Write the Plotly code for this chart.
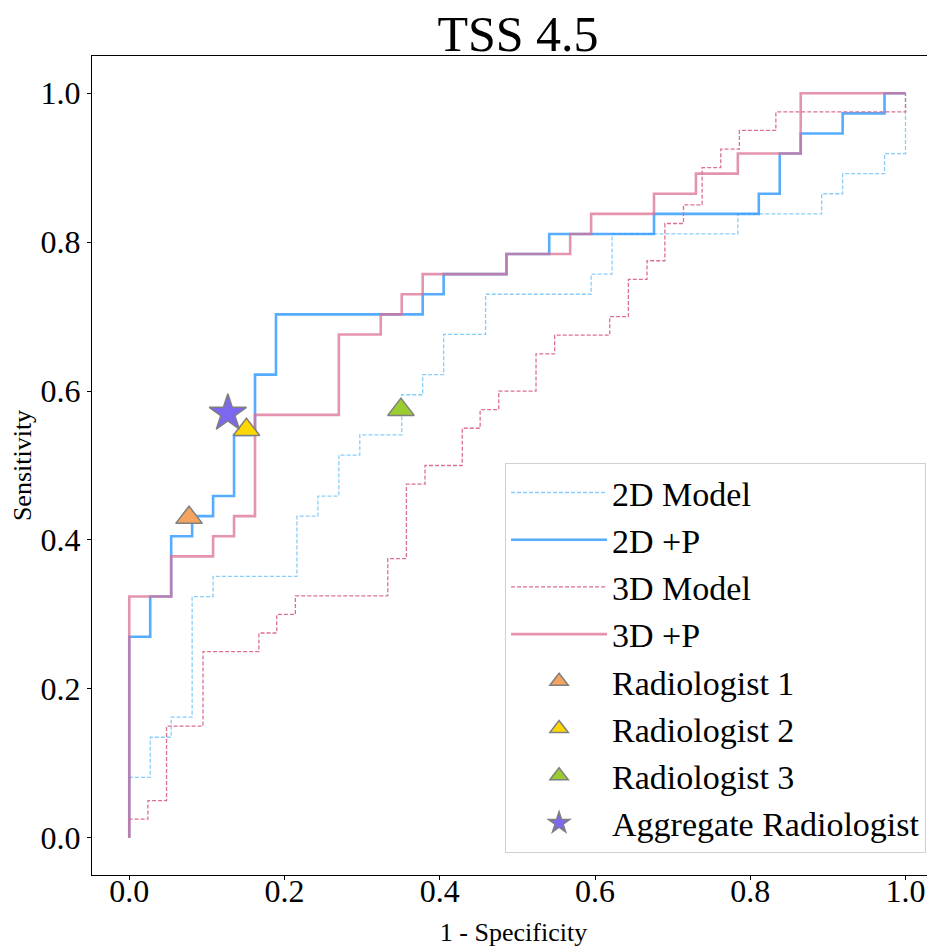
import plotly.graph_objects as go

# ROC corner points (used with a vertical-then-horizontal step shape)
fpr_2d_model = [0, 0.027, 0.054, 0.081, 0.108, 0.216, 0.243, 0.270, 0.297, 0.351, 0.378,
                0.405, 0.459, 0.595, 0.622, 0.784, 0.892, 0.919, 0.973, 1.0, 1.0]
tpr_2d_model = [0, 0.081, 0.135, 0.162, 0.324, 0.351, 0.432, 0.459, 0.514, 0.541, 0.595,
                0.622, 0.676, 0.730, 0.757, 0.811, 0.838, 0.865, 0.892, 0.919, 1.0]

fpr_2d_p = [0, 0.027, 0.054, 0.081, 0.108, 0.135, 0.162, 0.189, 0.378, 0.405, 0.486,
            0.541, 0.676, 0.811, 0.838, 0.865, 0.919, 0.973, 1.0]
tpr_2d_p = [0, 0.270, 0.324, 0.405, 0.432, 0.459, 0.541, 0.622, 0.703, 0.730, 0.757,
            0.784, 0.811, 0.838, 0.865, 0.919, 0.946, 0.973, 1.0]

fpr_3d_model = [0, 0.024, 0.048, 0.095, 0.167, 0.190, 0.214, 0.333, 0.357, 0.381, 0.429,
                0.452, 0.476, 0.524, 0.548, 0.619, 0.643, 0.667, 0.690, 0.714, 0.738,
                0.762, 0.786, 0.833, 1.0, 1.0]
tpr_3d_model = [0, 0.025, 0.05, 0.15, 0.25, 0.275, 0.3, 0.325, 0.375, 0.475, 0.5,
                0.55, 0.575, 0.6, 0.65, 0.675, 0.7, 0.75, 0.775, 0.825, 0.85,
                0.9, 0.925, 0.95, 0.975, 1.0]

fpr_3d_p = [0, 0.054, 0.108, 0.135, 0.162, 0.270, 0.324, 0.351, 0.378, 0.486, 0.568,
            0.595, 0.676, 0.730, 0.784, 0.865, 1.0]
tpr_3d_p = [0, 0.324, 0.378, 0.405, 0.432, 0.568, 0.676, 0.703, 0.730, 0.757, 0.784,
            0.811, 0.838, 0.865, 0.892, 0.919, 1.0]

radiologist_names = ["Radiologist 1", "Radiologist 2", "Radiologist 3", "Aggregate Radiologist"]
radiologist_fpr = [0.077, 0.151, 0.350, 0.127]
radiologist_tpr = [0.430, 0.548, 0.575, 0.570]
radiologist_colors = ["#F4A460", "#FFD700", "#9ACD32", "#7B68EE"]
radiologist_symbols = ["triangle-up", "triangle-up", "triangle-up", "star"]
radiologist_sizes = [23, 23, 23, 28]

tick_vals = [0.0, 0.2, 0.4, 0.6, 0.8, 1.0]
tick_text = ["0.0", "0.2", "0.4", "0.6", "0.8", "1.0"]

FONT = "Times New Roman, Liberation Serif, serif"

fig = go.Figure()

fig.add_trace(go.Scatter(x=fpr_2d_model, y=tpr_2d_model, mode="lines", name="2D Model",
                         line=dict(color="rgba(135,206,250,1)", width=1.3, dash="4px,2px", shape="vh")))
fig.add_trace(go.Scatter(x=fpr_2d_p, y=tpr_2d_p, mode="lines", name="2D +P",
                         line=dict(color="rgba(30,144,255,0.75)", width=2.6, shape="vh")))
fig.add_trace(go.Scatter(x=fpr_3d_model, y=tpr_3d_model, mode="lines", name="3D Model",
                         line=dict(color="rgba(219,112,147,1)", width=1.3, dash="4px,2px", shape="vh")))
fig.add_trace(go.Scatter(x=fpr_3d_p, y=tpr_3d_p, mode="lines", name="3D +P",
                         line=dict(color="rgba(219,112,147,0.75)", width=2.6, shape="vh")))

for name, fx, ty, col, sym, sz in zip(radiologist_names, radiologist_fpr, radiologist_tpr,
                                      radiologist_colors, radiologist_symbols, radiologist_sizes):
    fig.add_trace(go.Scatter(x=[fx], y=[ty], mode="markers", name=name,
                             marker=dict(color=col, symbol=sym, size=sz,
                                         line=dict(color="#7f7f7f", width=1.5))))

axis_common = dict(
    tickvals=tick_vals, ticktext=tick_text, ticks="outside", ticklen=4, tickwidth=1,
    tickcolor="black", showline=True, linecolor="black", linewidth=1, mirror=True,
    showgrid=False, zeroline=False, automargin=False,
    tickfont=dict(family=FONT, size=32, color="black"),
)

fig.update_layout(
    width=927, height=939,
    margin=dict(l=84, r=0, t=48, b=72, autoexpand=False),
    paper_bgcolor="white", plot_bgcolor="white",
    title=dict(text="TSS 4.5", x=0.5053, xref="paper", xanchor="center",
               y=0.973, yref="container", yanchor="middle",
               font=dict(family=FONT, size=50, color="black")),
    xaxis=dict(range=[-0.048, 1.038], ticklabelstandoff=-16,
               title=dict(text="1 - Specificity", font=dict(family=FONT, size=26, color="black"), standoff=21),
               **axis_common),
    yaxis=dict(range=[-0.05, 1.05],
               title=dict(text="Sensitivity", font=dict(family=FONT, size=26, color="black"), standoff=1),
               **axis_common),
    legend=dict(x=0.49, y=0.027, xanchor="left", yanchor="bottom",
                bgcolor="rgba(255,255,255,0.85)", bordercolor="#d0d0d0", borderwidth=1,
                font=dict(family=FONT, size=34, color="black"), itemwidth=96,
                tracegroupgap=0),
    showlegend=True,
)

fig.write_html("out.html")
